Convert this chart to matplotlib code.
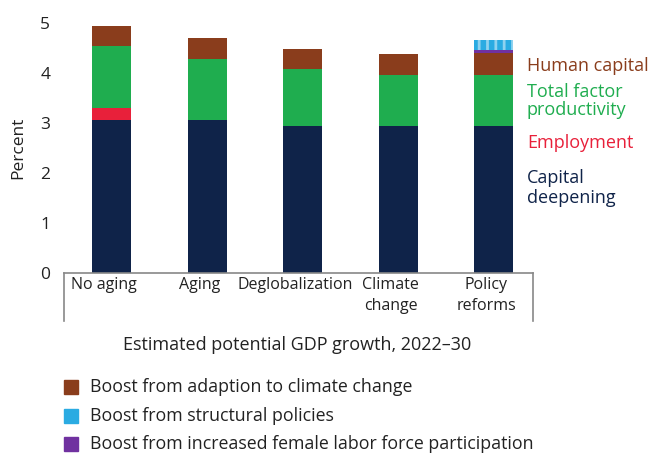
import matplotlib
matplotlib.use("Agg")
import matplotlib.pyplot as plt
import numpy as np
from matplotlib.lines import Line2D
from matplotlib.patches import Rectangle

categories = ["No aging", "Aging", "Deglobalization", "Climate\nchange", "Policy\nreforms"]
capital_deepening = [3.06, 3.06, 2.94, 2.94, 2.94]
employment = [0.24, 0.0, 0.0, 0.0, 0.0]
tfp = [1.24, 1.22, 1.14, 1.02, 1.02]
human_capital = [0.40, 0.42, 0.40, 0.42, 0.44]
female_lfp = [0.0, 0.0, 0.0, 0.0, 0.06]
structural = [0.0, 0.0, 0.0, 0.0, 0.20]

legend_labels = ["Boost from adaption to climate change",
                 "Boost from structural policies",
                 "Boost from increased female labor force participation"]

C_NAVY = "#0f2349"
C_RED = "#e8203a"
C_GREEN = "#1fad4f"
C_BROWN = "#8a3d1c"
C_BLUE = "#2aabe2"
C_PURPLE = "#7031a0"

plt.rcParams['font.family'] = ['Open Sans', 'DejaVu Sans']
plt.rcParams['hatch.linewidth'] = 2.0
fig = plt.figure(figsize=(6.5, 4.61), dpi=100)
ax = fig.add_axes([0.0985, 0.4078, 0.7215, 0.5422])

x = np.arange(len(categories))
w = 0.41
bottom = np.zeros(len(categories))
for vals, col in [(capital_deepening, C_NAVY), (employment, C_RED), (tfp, C_GREEN),
                  (human_capital, C_BROWN), (female_lfp, C_PURPLE)]:
    ax.bar(x, vals, w, bottom=bottom, color=col, linewidth=0)
    bottom += np.array(vals)
ax.bar(x, structural, w, bottom=bottom, color=C_BLUE, linewidth=0,
       hatch='||', edgecolor='#8fd2ef')

ax.set_xlim(-0.5, 4.41)
ax.set_ylim(0, 5)
ax.set_yticks([0, 1, 2, 3, 4, 5])
ax.tick_params(axis='y', length=0, labelsize=12.5, colors='#222222', pad=10)
ax.tick_params(axis='x', length=0)
ax.set_xticks(x)
ax.set_xticklabels([])
for s in ['top', 'right', 'left']:
    ax.spines[s].set_visible(False)
ax.spines['bottom'].set_color('#888888')
ax.spines['bottom'].set_linewidth(1.2)
ax.set_ylabel("Percent", fontsize=12.5, color='#222222', labelpad=10)

# category labels in box
for xi, lab in zip(x, categories):
    ax.text(xi - 0.08, -0.016, lab, transform=ax.get_xaxis_transform(), ha='center', va='top',
            fontsize=11.5, color='#222222', linespacing=1.4)
for xs in [0, 1]:
    ax.add_line(Line2D([xs, xs], [0, -0.194], transform=ax.transAxes, color='#888888',
                       lw=1.2, clip_on=False))

fig.text(0.457, 1 - 345/461, "Estimated potential GDP growth, 2022\u201330", ha='center',
         va='center', fontsize=13, color='#222222')

# series labels
fs = 13
fig.text(527/650, 1 - 66/461, "Human capital", color=C_BROWN, fontsize=fs, va='center')
fig.text(527/650, 1 - 101/461, "Total factor\nproductivity", color=C_GREEN, fontsize=fs,
         va='center', linespacing=0.95)
fig.text(527/650, 1 - 143/461, "Employment", color=C_RED, fontsize=fs, va='center')
fig.text(527/650, 1 - 188/461, "Capital\ndeepening", color=C_NAVY, fontsize=fs,
         va='center', linespacing=1.1)

# legend
for i, (lab, col) in enumerate(zip(legend_labels, [C_BROWN, C_BLUE, C_PURPLE])):
    yc = 387 + i * 28.5
    fig.patches.append(Rectangle((64/650, 1 - (yc + 7)/461), 14/650, 14/461,
                                 transform=fig.transFigure, color=col, figure=fig))
    fig.text(90/650, 1 - yc/461, lab, fontsize=12.8, va='center', color='#222222')

fig.savefig("out.png", dpi=100)
